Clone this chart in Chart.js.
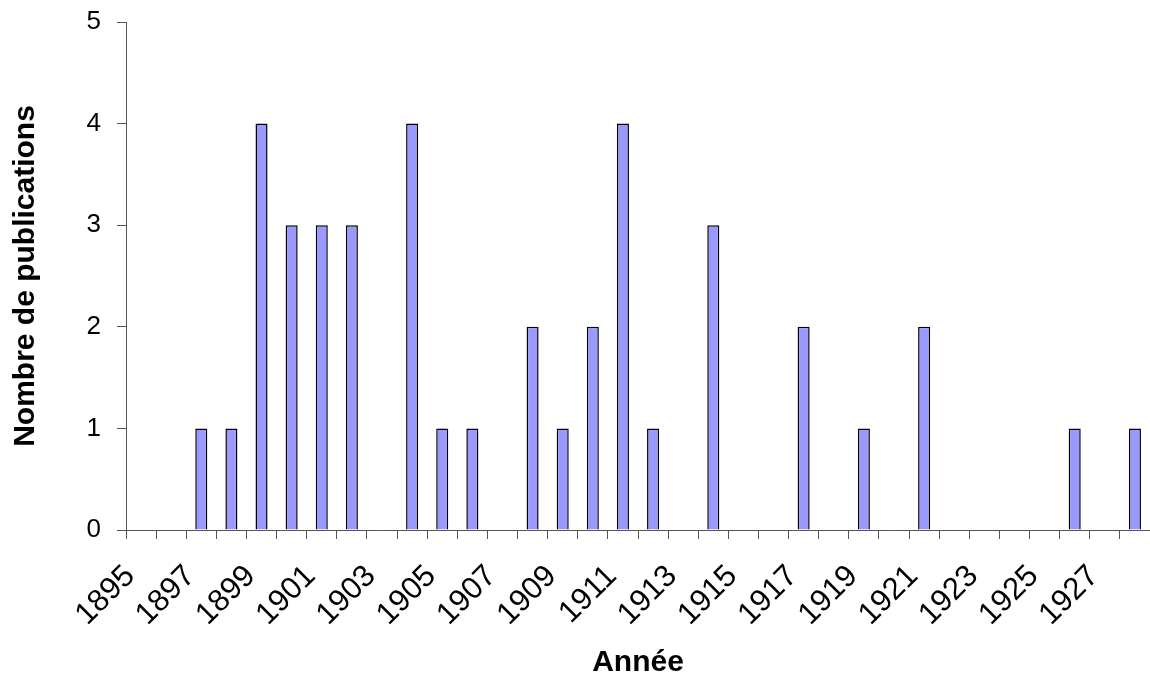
<!DOCTYPE html>
<html lang="fr">
<head>
<meta charset="utf-8">
<title>Nombre de publications par année</title>
<script src="https://cdn.jsdelivr.net/npm/chart.js@4.4.1/dist/chart.umd.min.js"></script>
<style>
    html, body { margin: 0; padding: 0; background: #fff; overflow: hidden; }
    #graphique { display: block; }
</style>
</head>
<body>
<canvas id="graphique" width="1150" height="682"></canvas>
<script>
// Données
const annees = ['1895', '1896', '1897', '1898', '1899', '1900', '1901', '1902', '1903', '1904',
    '1905', '1906', '1907', '1908', '1909', '1910', '1911', '1912', '1913', '1914',
    '1915', '1916', '1917', '1918', '1919', '1920', '1921', '1922', '1923', '1924',
    '1925', '1926', '1927', '1928'];
const publications = [0, 0, 1, 1, 4, 3, 3, 3, 0, 4,
    1, 1, 0, 2, 1, 2, 4, 1, 0, 3,
    0, 0, 2, 0, 1, 0, 2, 0, 0, 0,
    0, 1, 0, 1];
const graduationsY = [0, 1, 2, 3, 4, 5];

const POLICE = 'Arial, "Liberation Sans", sans-serif';
const COULEUR_AXE = '#555555';

function creerGraphique() {
    const ctx = document.getElementById('graphique').getContext('2d');

    return new Chart(ctx, {
        type: 'bar',
        data: {
            labels: annees,
            datasets: [{
                label: 'Nombre de publications',
                data: publications,
                backgroundColor: '#9999ff',
                borderColor: '#000000',
                borderWidth: 1.5,
                categoryPercentage: 1,
                barPercentage: 0.4
            }]
        },
        options: {
            responsive: false,
            animation: false,
            layout: {
                padding: { top: 22, right: 0, bottom: 0, left: 0 }
            },
            plugins: {
                legend: { display: false },
                tooltip: { enabled: false }
            },
            scales: {
                x: {
                    grid: {
                        display: true,
                        offset: true,
                        drawOnChartArea: false,
                        drawTicks: true,
                        tickLength: 9,
                        color: COULEUR_AXE
                    },
                    border: { display: true, color: COULEUR_AXE, width: 1 },
                    ticks: {
                        autoSkip: false,
                        minRotation: 45,
                        maxRotation: 45,
                        // étiquettes calées sur les graduations, pas au centre des barres
                        labelOffset: -11,
                        padding: 19,
                        color: '#000000',
                        font: { family: POLICE, size: 31 },
                        // une année sur deux, comme dans l'original
                        callback: (valeur, index) => index % 2 === 0 ? annees[index] : ''
                    },
                    title: {
                        display: true,
                        text: 'Année',
                        color: '#000000',
                        font: { family: POLICE, size: 30, weight: 'bold' },
                        padding: { top: 0, bottom: 1 }
                    },
                    afterFit: (echelle) => {
                        echelle.height = 152;
                        echelle.paddingLeft = 0;
                        echelle.paddingRight = 0;
                    }
                },
                y: {
                    min: 0,
                    max: 5,
                    grid: {
                        display: true,
                        drawOnChartArea: false,
                        drawTicks: true,
                        tickLength: 9,
                        color: COULEUR_AXE
                    },
                    border: { display: true, color: COULEUR_AXE, width: 1 },
                    afterBuildTicks: (echelle) => {
                        echelle.ticks = graduationsY.map(v => ({ value: v }));
                    },
                    ticks: {
                        padding: 16,
                        color: '#000000',
                        font: { family: POLICE, size: 26 }
                    },
                    title: {
                        display: true,
                        text: 'Nombre de publications',
                        color: '#000000',
                        font: { family: POLICE, size: 30, weight: 'bold' },
                        padding: { top: 8, bottom: 0 }
                    },
                    afterFit: (echelle) => {
                        echelle.width = 126;
                        echelle.paddingTop = 0;
                        echelle.paddingBottom = 0;
                    }
                }
            }
        }
    });
}

document.addEventListener('DOMContentLoaded', function() {
    creerGraphique();
});
</script>
</body>
</html>
